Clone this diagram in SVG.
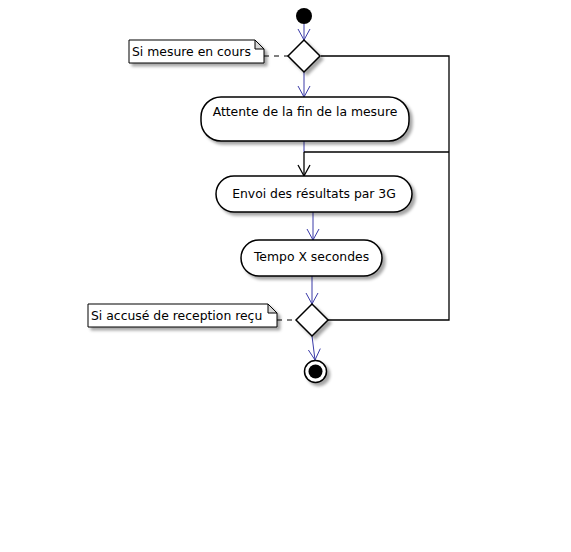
<svg xmlns="http://www.w3.org/2000/svg" width="571" height="552" viewBox="0 0 571 552">
<defs>
<filter id="sh" x="-20%" y="-20%" width="150%" height="160%">
<feDropShadow dx="3" dy="3" stdDeviation="1.6" flood-color="#000" flood-opacity="0.35"/>
</filter>
</defs>
<style>
.act{fill:#fff;stroke:#000;stroke-width:1.5;filter:url(#sh)}
.dia{fill:#fff;stroke:#000;stroke-width:1.5;filter:url(#sh)}
.note{fill:#fff;stroke:#000;stroke-width:1;filter:url(#sh)}
.fold{fill:#d8d8d8;stroke:#000;stroke-width:1}
.t{font-family:"DejaVu Sans",Verdana,sans-serif;font-size:12.4px;fill:#000}
.blue{stroke:#3a3aa8;stroke-width:1;fill:none}
.blk{stroke:#000;stroke-width:1.3;fill:none}
.dash{stroke:#000;stroke-width:1;stroke-dasharray:5,5;fill:none}
</style>
<rect width="571" height="552" fill="#fff"/>
<g id="connectors">
<line class="blue" x1="304" y1="24" x2="304" y2="40"/>
<polyline class="blue" points="298,29 304,40 310,29"/>
<line class="blue" x1="304" y1="72" x2="304" y2="97"/>
<polyline class="blue" points="298,86 304,97 310,86"/>
<line class="blue" x1="304" y1="141" x2="304" y2="152"/>
<line class="blk" x1="304" y1="152" x2="304" y2="176"/>
<polyline class="blk" points="298,165 304,176 310,165"/>
<line class="blk" x1="304" y1="152" x2="449" y2="152"/>
<polyline class="blk" points="321,56 449,56 449,320 328,320"/>
<line class="blue" x1="313" y1="212" x2="313" y2="240"/>
<polyline class="blue" points="307,229 313,240 319,229"/>
<line class="blue" x1="312" y1="276" x2="312" y2="304"/>
<polyline class="blue" points="306,293 312,304 318,293"/>
<line class="blue" x1="312" y1="336" x2="315" y2="360"/>
<polyline class="blue" points="308.4,350 315,360 320.3,348.6"/>
<line class="dash" x1="264" y1="56" x2="288" y2="56"/>
<line class="dash" x1="277" y1="320" x2="296" y2="320"/>
</g>
<g id="start"><circle cx="304" cy="16" r="8" fill="#000"/></g>
<g id="decision1"><polygon class="dia" points="288,56 304,40 320,56 304,72"/></g>
<g id="note1">
<path class="note" d="M129,40 H255 L264,49 V63 H129 Z"/>
<path class="fold" d="M255,40 V49 H264 Z"/>
<text class="t" x="132" y="56">Si mesure en cours</text>
</g>
<g id="attente">
<rect class="act" x="201" y="97" width="208" height="44" rx="20"/>
<text class="t" x="305" y="116" text-anchor="middle">Attente de la fin de la mesure</text>
</g>
<g id="envoi">
<rect class="act" x="216" y="176" width="196" height="36" rx="18"/>
<text class="t" x="314" y="198" text-anchor="middle">Envoi des résultats par 3G</text>
</g>
<g id="tempo">
<rect class="act" x="241" y="240" width="141" height="36" rx="18"/>
<text class="t" x="311.5" y="261" text-anchor="middle">Tempo X secondes</text>
</g>
<g id="decision2"><polygon class="dia" points="296,320 312,304 328,320 312,336"/></g>
<g id="note2">
<path class="note" d="M88,304 H268 L277,313 V327 H88 Z"/>
<path class="fold" d="M268,304 V313 H277 Z"/>
<text class="t" x="91" y="320">Si accusé de reception reçu</text>
</g>
<g id="end">
<circle cx="315.5" cy="371.5" r="11" fill="#fff" stroke="#000" stroke-width="1.5" filter="url(#sh)"/>
<circle cx="315.5" cy="371.5" r="7" fill="#000"/>
</g>
</svg>
